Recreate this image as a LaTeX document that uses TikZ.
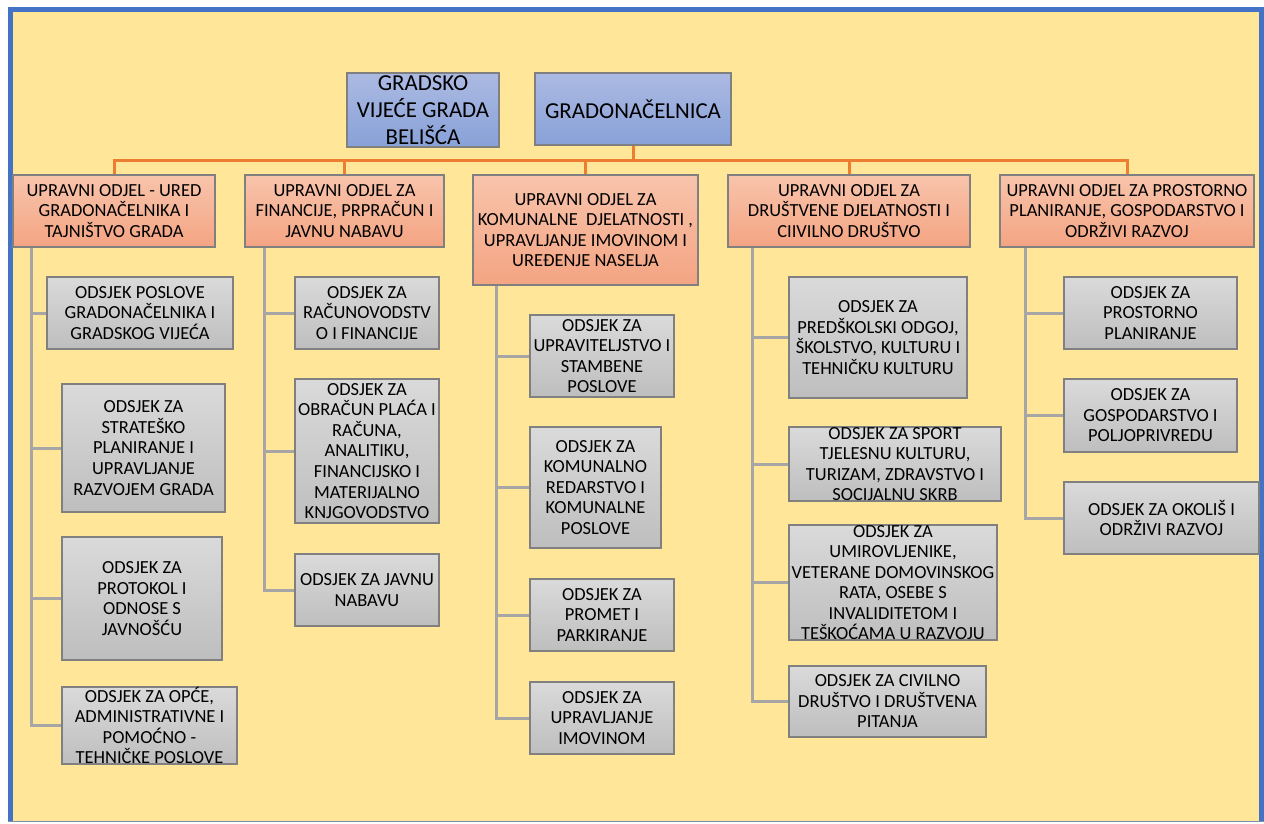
\documentclass[tikz,border=0pt]{standalone}
\usepackage{fontspec}
\setmainfont{Carlito}
\usetikzlibrary{positioning}

\definecolor{paper}{HTML}{FFE699}
\definecolor{frameblue}{HTML}{4472C4}
\definecolor{busorange}{HTML}{ED7D31}
\definecolor{subgray}{HTML}{A6A6A6}
\definecolor{headtop}{RGB}{172,186,226}
\definecolor{headbot}{RGB}{136,161,216}
\definecolor{depttop}{RGB}{248,196,172}
\definecolor{deptbot}{RGB}{244,164,130}
\definecolor{secttop}{RGB}{218,218,218}
\definecolor{sectbot}{RGB}{190,190,190}

\tikzset{
  boxsize/.style n args={2}{minimum width=#1*0.2mm, minimum height=#2*0.2mm}
}

\begin{document}
\begin{tikzpicture}[x=0.2mm,y=-0.2mm,
  unit/.style={draw=black!50, line width=0.3mm, inner sep=0pt, align=center,
    font=\fontsize{10.5}{11.7}\selectfont},
  head/.style={unit, top color=headtop, bottom color=headbot,
    font=\fontsize{13}{15.2}\selectfont},
  dept/.style={unit, top color=depttop, bottom color=deptbot},
  sect/.style={unit, top color=secttop, bottom color=sectbot},
  bus/.style={draw=busorange, line width=0.6mm},
  sub/.style={draw=subgray, line width=0.6mm}]

\useasboundingbox (0,0) rectangle (1264,823);
\fill[white] (0,0) rectangle (1264,823);
\fill[paper] (10,10) rectangle (1261,821);
\draw[frameblue, line width=1mm] (10.5,821) -- (10.5,9.5) -- (1261.5,9.5) -- (1261.5,821);
\draw[black!40!frameblue!60, line width=0.3mm] (8,821.5) -- (1264,821.5);

% top level
\node[head, boxsize={152}{74}] (council) at (423,110) {GRADSKO\\VIJEĆE GRADA\\BELIŠĆA};
\node[head, boxsize={196}{72}] (mayor) at (633,109) {GRADONAČELNICA};

% departments
\node[dept, boxsize={202}{72}] (dep1) at (114,211) {UPRAVNI ODJEL - URED\\GRADONAČELNIKA I\\TAJNIŠTVO GRADA};
\node[dept, boxsize={199}{72}] (dep2) at (344.5,211) {UPRAVNI ODJEL ZA\\FINANCIJE, PRPRAČUN I\\JAVNU NABAVU};
\node[dept, boxsize={225}{110}] (dep3) at (585.5,230) {UPRAVNI ODJEL ZA\\KOMUNALNE\ \ DJELATNOSTI ,\\UPRAVLJANJE IMOVINOM I\\UREĐENJE NASELJA};
\node[dept, boxsize={242}{72}] (dep4) at (849,211) {UPRAVNI ODJEL ZA\\DRUŠTVENE DJELATNOSTI I\\CIIVILNO DRUŠTVO};
\node[dept, boxsize={254}{72}] (dep5) at (1127,211) {UPRAVNI ODJEL ZA PROSTORNO\\PLANIRANJE, GOSPODARSTVO I\\ODRŽIVI RAZVOJ};

% sections
\node[sect, boxsize={186}{72}] (s11) at (140,313) {ODSJEK POSLOVE\\GRADONAČELNIKA I\\GRADSKOG VIJEĆA};
\node[sect, boxsize={163}{128}] (s12) at (143.5,448) {ODSJEK ZA\\STRATEŠKO\\PLANIRANJE I\\UPRAVLJANJE\\RAZVOJEM GRADA};
\node[sect, boxsize={160}{123}] (s13) at (142,598.5) {ODSJEK ZA\\PROTOKOL I\\ODNOSE S\\JAVNOŠĆU};
\node[sect, boxsize={175}{73}] (s14) at (149.5,725.5) {ODSJEK ZA OPĆE,\\ADMINISTRATIVNE I\\POMOĆNO -\\TEHNIČKE POSLOVE};

\node[sect, boxsize={144}{72}] (s21) at (367,313) {ODSJEK ZA\\RAČUNOVODSTV\\O I FINANCIJE};
\node[sect, boxsize={144}{144}] (s22) at (367,451) {ODSJEK ZA\\OBRAČUN PLAĆA I\\RAČUNA,\\ANALITIKU,\\FINANCIJSKO I\\MATERIJALNO\\KNJGOVODSTVO};
\node[sect, boxsize={144}{72}] (s23) at (367,590) {ODSJEK ZA JAVNU\\NABAVU};

\node[sect, boxsize={144}{82}] (s31) at (602,356) {ODSJEK ZA\\UPRAVITELJSTVO I\\STAMBENE\\POSLOVE};
\node[sect, boxsize={131}{121}] (s32) at (595.5,487.5) {ODSJEK ZA\\KOMUNALNO\\REDARSTVO I\\KOMUNALNE\\POSLOVE};
\node[sect, boxsize={144}{72}] (s33) at (602,615) {ODSJEK ZA\\PROMET I\\PARKIRANJE};
\node[sect, boxsize={144}{72}] (s34) at (602,718) {ODSJEK ZA\\UPRAVLJANJE\\IMOVINOM};

\node[sect, boxsize={178}{121}] (s41) at (878,337.5) {ODSJEK ZA\\PREDŠKOLSKI ODGOJ,\\ŠKOLSTVO, KULTURU I\\TEHNIČKU KULTURU};
\node[sect, boxsize={212}{72}] (s42) at (895,464) {ODSJEK ZA SPORT\\TJELESNU KULTURU,\\TURIZAM, ZDRAVSTVO I\\SOCIJALNU SKRB};
\node[sect, boxsize={208}{105}] (s43) at (893,582.5) {ODSJEK ZA\\UMIROVLJENIKE,\\VETERANE DOMOVINSKOG\\RATA, OSEBE S\\INVALIDITETOM I\\TEŠKOĆAMA U RAZVOJU};
\node[sect, boxsize={197}{71}] (s44) at (887.5,701.5) {ODSJEK ZA CIVILNO\\DRUŠTVO I DRUŠTVENA\\PITANJA};

\node[sect, boxsize={173}{72}] (s51) at (1150.5,313) {ODSJEK ZA\\PROSTORNO\\PLANIRANJE};
\node[sect, boxsize={173}{73}] (s52) at (1150.5,415.5) {ODSJEK ZA\\GOSPODARSTVO I\\POLJOPRIVREDU};
\node[sect, boxsize={195}{72}] (s53) at (1161.5,518) {ODSJEK ZA OKOLIŠ I\\ODRŽIVI RAZVOJ};

% orange bus
\coordinate[below=3mm of mayor.south] (hub);
\draw[bus] (mayor.south) -- (hub);
\foreach \d in {dep1,dep2,dep3,dep4,dep5}
  \draw[bus] (hub) -| (\d.north);

% gray trunks
\path (dep1.south west) ++(19,0) coordinate (t1)
      (dep2.south west) ++(20,0) coordinate (t2)
      (dep3.south west) ++(24,0) coordinate (t3)
      (dep4.south west) ++(25,0) coordinate (t4)
      (dep5.south west) ++(26,0) coordinate (t5);
\foreach \s in {s11,s12,s13,s14} \draw[sub] (t1) |- (\s.west);
\foreach \s in {s21,s22,s23} \draw[sub] (t2) |- (\s.west);
\foreach \s in {s31,s32,s33,s34} \draw[sub] (t3) |- (\s.west);
\foreach \s in {s41,s42,s43,s44} \draw[sub] (t4) |- (\s.west);
\foreach \s in {s51,s52,s53} \draw[sub] (t5) |- (\s.west);
\end{tikzpicture}
\end{document}
